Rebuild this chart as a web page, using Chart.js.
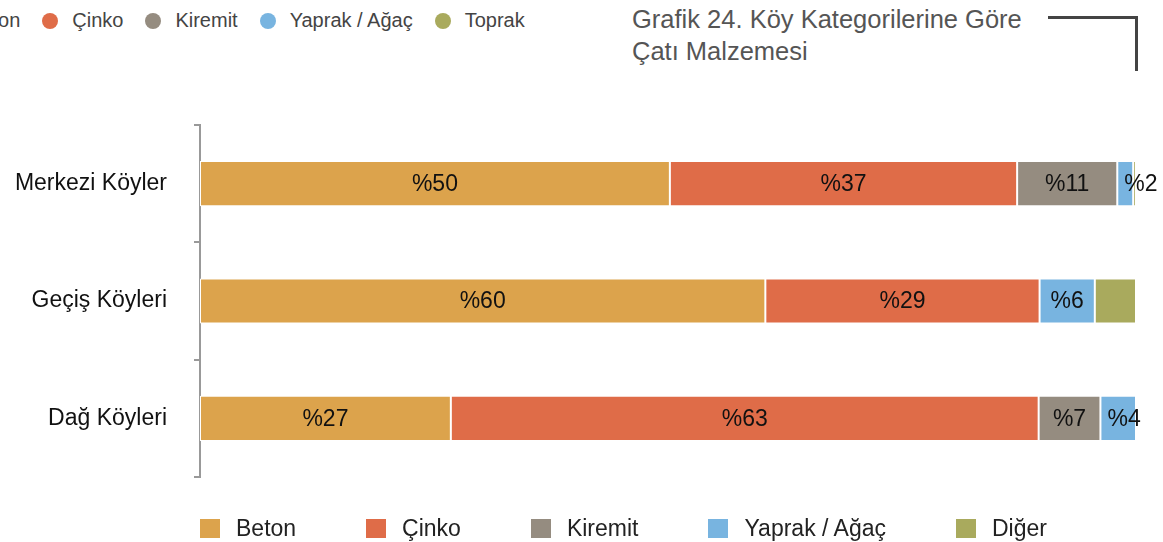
<!DOCTYPE html>
<html>
<head>
<meta charset="utf-8">
<script src="https://cdn.jsdelivr.net/npm/chart.js@4.4.0/dist/chart.umd.min.js"></script>
<style>
    html, body { margin: 0; padding: 0; background: #fff; }
    body { width: 1163px; height: 542px; position: relative; overflow: hidden; font-family: "Liberation Sans", Arial, sans-serif; }
    #chart-wrap { position: absolute; left: 0; top: 0; width: 1163px; height: 542px; }
    #top-legend { position: absolute; left: -32px; top: 9px; display: flex; align-items: center; font-size: 20px; color: #444; white-space: nowrap; }
    #top-legend .item { display: flex; align-items: center; margin-right: 22px; }
    #top-legend .dot { width: 16px; height: 16px; border-radius: 50%; margin-right: 14px; }
    #title { position: absolute; left: 632px; top: 3px; font-size: 25.5px; line-height: 32px; color: #555; font-weight: 300; }
    #bracket { position: absolute; left: 1048px; top: 16px; width: 87px; height: 52px; border-top: 3px solid #444; border-right: 3px solid #444; }
    #legend { position: absolute; left: 200px; top: 515px; display: flex; align-items: center; font-size: 23px; color: #222; white-space: nowrap; }
    #legend .item { display: flex; align-items: center; margin-right: 70px; }
    #legend .box { width: 20px; height: 19px; margin-right: 16px; }
</style>
</head>
<body>
<div id="top-legend"></div>
<div id="title">Grafik 24. Köy Kategorilerine Göre<br>Çatı Malzemesi</div>
<div id="bracket"></div>
<div id="chart-wrap"><canvas id="chart"></canvas></div>
<div id="legend"></div>
<script>
var categories = ['Merkezi Köyler', 'Geçiş Köyleri', 'Dağ Köyleri'];

var seriesNames = ['Beton', 'Çinko', 'Kiremit', 'Yaprak / Ağaç', 'Diğer'];
var seriesColors = ['#DCA34C', '#DF6C48', '#958C80', '#78B4E0', '#A9AA5D'];

var beton = [50.2, 60.4, 26.8];
var cinko = [37.1, 29.3, 62.8];
var kiremit = [10.7, 0, 6.6];
var yaprak = [1.7, 5.9, 3.8];
var diger = [0.3, 4.4, 0];

// leftover legend of the previous chart, cut at the left edge
var topLegendNames = ['Beton', 'Çinko', 'Kiremit', 'Yaprak / Ağaç', 'Toprak'];

var seriesValues = [beton, cinko, kiremit, yaprak, diger];

var datasets = seriesNames.map(function (name, i) {
    return {
        label: name,
        data: seriesValues[i],
        backgroundColor: seriesColors[i],
        borderColor: '#ffffff',
        borderWidth: 1,
        borderSkipped: false,
        showValues: name !== 'Diğer'
    };
});

var labelFont = '23px "Liberation Sans", Arial, sans-serif';

// percentage labels drawn on each segment
var valueLabels = {
    id: 'valueLabels',
    afterDatasetsDraw: function (chart) {
        var ctx = chart.ctx;
        ctx.save();
        ctx.font = labelFont;
        ctx.fillStyle = '#111';
        ctx.textBaseline = 'middle';
        chart.data.datasets.forEach(function (ds, di) {
            if (!ds.showValues) {
                return;
            }
            var meta = chart.getDatasetMeta(di);
            meta.data.forEach(function (bar, i) {
                var v = ds.data[i];
                if (!v) {
                    return;
                }
                var text = '%' + Math.round(v);
                var left = Math.min(bar.base, bar.x);
                var w = Math.abs(bar.x - bar.base);
                var tw = ctx.measureText(text).width;
                if (tw + 4 > w) {
                    ctx.textAlign = 'left';
                    ctx.fillText(text, left + 7, bar.y + 1);
                } else {
                    ctx.textAlign = 'center';
                    ctx.fillText(text, left + w / 2, bar.y + 1);
                }
            });
        });
        ctx.restore();
    }
};

new Chart(document.getElementById('chart'), {
    type: 'bar',
    data: { labels: categories, datasets: datasets },
    plugins: [valueLabels],
    options: {
        indexAxis: 'y',
        responsive: true,
        maintainAspectRatio: false,
        animation: false,
        layout: { padding: { top: 125, bottom: 65, right: 27, left: 0 } },
        datasets: { bar: { categoryPercentage: 1, barPercentage: 0.385 } },
        scales: {
            x: { stacked: true, min: 0, max: 100, display: false },
            y: {
                stacked: true,
                afterFit: function (scale) { scale.width = 200; },
                border: { display: true, color: '#999', width: 2 },
                grid: { drawOnChartArea: false, drawTicks: true, tickLength: 6, color: '#999', lineWidth: 2, offset: true },
                ticks: { padding: 27, color: '#111', font: { family: '"Liberation Sans", Arial, sans-serif', size: 23 } }
            }
        },
        plugins: {
            legend: { display: false },
            tooltip: { enabled: false }
        }
    }
});

// bottom legend built from the series arrays
var legend = document.getElementById('legend');
seriesNames.forEach(function (name, i) {
    var item = document.createElement('div');
    item.className = 'item';
    var box = document.createElement('span');
    box.className = 'box';
    box.style.background = seriesColors[i];
    item.appendChild(box);
    item.appendChild(document.createTextNode(name));
    legend.appendChild(item);
});

var topLegend = document.getElementById('top-legend');
topLegendNames.forEach(function (name, i) {
    var item = document.createElement('div');
    item.className = 'item';
    if (i > 0) {
        var dot = document.createElement('span');
        dot.className = 'dot';
        dot.style.background = seriesColors[i];
        item.appendChild(dot);
    }
    item.appendChild(document.createTextNode(name));
    topLegend.appendChild(item);
});
</script>
</body>
</html>
